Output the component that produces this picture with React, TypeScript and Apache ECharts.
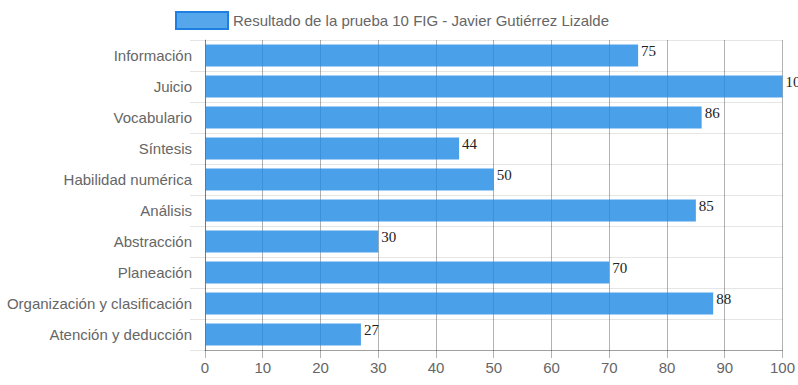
import React, { useEffect, useRef } from "react";
import * as echarts from "echarts";

const categories = [
  "Información",
  "Juicio",
  "Vocabulario",
  "Síntesis",
  "Habilidad numérica",
  "Análisis",
  "Abstracción",
  "Planeación",
  "Organización y clasificación",
  "Atención y deducción",
];
const values = [75, 100, 86, 44, 50, 85, 30, 70, 88, 27];
const seriesName = "Resultado de la prueba 10 FIG - Javier Gutiérrez Lizalde";

export default function App() {
  const ref = useRef<HTMLDivElement>(null);
  useEffect(() => {
    if (!ref.current) return;
    const chart = echarts.init(ref.current, undefined, { renderer: "svg" });
    chart.setOption({
      animation: false,
      legend: {
        left: 175,
        top: 11,
        padding: 0,
        itemWidth: 52,
        itemHeight: 17,
        itemGap: 10,
        textStyle: { fontFamily: "Liberation Sans", fontSize: 15, color: "#666" },
        data: [
          {
            name: seriesName,
            icon: "rect",
            itemStyle: {
              color: "rgba(30,136,229,0.75)",
              borderColor: "#1e7fe0",
              borderWidth: 2,
            },
          },
        ],
      },
      grid: { left: 205, right: 15, top: 40, bottom: 35, containLabel: false },
      xAxis: {
        type: "value",
        min: 0,
        max: 100,
        interval: 10,
        axisLine: { show: true, lineStyle: { color: "rgba(0,0,0,0.3)" } },
        axisTick: { show: true, length: 8, lineStyle: { color: "rgba(0,0,0,0.3)" } },
        splitLine: { show: true, lineStyle: { color: "rgba(0,0,0,0.3)" } },
        axisLabel: {
          margin: 10,
          fontFamily: "Liberation Sans",
          fontSize: 15,
          color: "#666",
        },
      },
      yAxis: {
        type: "category",
        inverse: true,
        data: categories,
        axisLine: { show: true, lineStyle: { color: "rgba(0,0,0,0.3)" } },
        axisTick: { show: true, length: 15, lineStyle: { color: "rgba(0,0,0,0.1)" } },
        splitLine: { show: true, lineStyle: { color: "rgba(0,0,0,0.1)" } },
        axisLabel: {
          margin: 13,
          fontFamily: "Liberation Sans",
          fontSize: 15,
          color: "#666",
          padding: [0, 0, 3, 0],
        },
      },
      series: [
        {
          name: seriesName,
          type: "bar",
          data: values,
          barWidth: 22,
          itemStyle: { color: "rgba(30,136,229,0.8)" },
          label: {
            show: true,
            position: "right",
            distance: 3,
            offset: [0, -5],
            fontFamily: "Liberation Serif",
            fontSize: 15,
            color: "#222",
          },
        },
      ],
    });
    return () => chart.dispose();
  }, []);
  return (
    <div
      ref={ref}
      style={{ position: "absolute", left: 0, top: 0, width: 798, height: 385 }}
    />
  );
}
